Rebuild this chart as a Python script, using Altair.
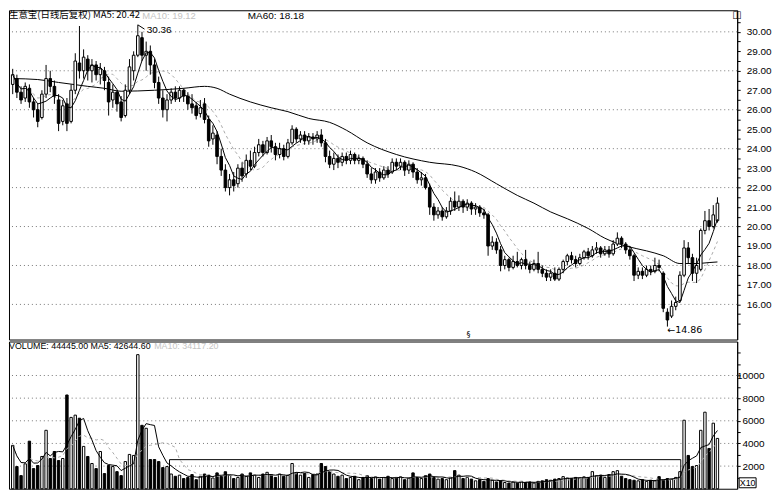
import altair as alt
import pandas as pd

# ---------------- data ----------------
opens = [27.3,27.6,26.9,26.6,27.1,26.4,26.0,25.6,26.8,27.6,
         27.2,26.5,25.4,26.3,25.4,27.0,28.4,28.0,28.6,28.0,
         28.3,27.8,28.0,27.4,26.5,26.9,26.4,25.7,27.0,28.0,
         28.8,29.7,28.8,29.0,28.3,27.4,26.6,26.0,26.5,26.9,
         26.6,27.0,26.7,26.3,26.2,25.8,26.3,25.5,24.5,24.7,
         23.6,22.9,22.0,22.4,22.2,23.0,22.7,23.4,23.1,23.8,
         24.2,23.8,24.4,24.1,23.7,24.0,23.6,24.3,25.0,24.5,
         24.7,24.4,24.6,24.5,24.7,24.3,23.6,23.2,23.5,23.3,
         23.6,23.4,23.7,23.4,23.5,23.2,22.7,22.4,22.8,22.5,
         22.9,22.8,23.3,23.1,23.3,22.9,23.2,22.8,22.4,22.5,
         22.0,21.0,20.6,20.8,20.5,20.8,21.3,21.0,21.3,21.0,
         21.2,20.9,21.0,20.7,20.6,19.0,19.2,18.8,18.0,18.3,
         17.9,18.2,18.0,18.3,18.0,17.8,18.1,17.8,17.6,17.4,
         17.6,17.3,17.8,18.2,18.5,18.3,18.1,18.4,18.7,18.5,
         18.8,18.9,18.6,18.8,18.6,19.1,19.4,19.1,18.8,18.5,
         17.5,17.7,17.5,17.8,17.7,18.0,17.6,15.6,15.4,15.9,
         16.2,17.5,18.9,18.4,17.6,17.8,19.8,20.3,20.0,20.3]
closes = [27.8,26.9,26.5,27.2,26.4,26.0,25.4,26.8,27.6,27.2,
          26.7,25.3,26.2,25.3,27.0,28.5,28.0,28.7,28.0,28.3,
          27.8,28.1,27.5,26.4,26.9,26.3,25.6,27.0,28.2,28.8,
          29.8,28.8,29.0,28.3,27.4,26.6,26.0,26.5,26.9,26.6,
          27.0,26.7,26.3,26.1,25.7,26.1,25.5,24.4,24.8,23.6,
          22.9,22.0,22.4,22.1,23.0,22.6,23.4,23.1,23.8,24.2,
          23.8,24.4,24.1,23.7,24.0,23.6,24.3,25.0,24.5,24.7,
          24.4,24.6,24.5,24.7,24.3,23.6,23.2,23.5,23.3,23.6,
          23.4,23.7,23.4,23.5,23.2,22.7,22.4,22.8,22.5,22.9,
          22.7,23.3,23.1,23.3,22.9,23.2,22.8,22.4,22.5,22.0,
          21.0,20.6,20.8,20.5,20.8,21.3,21.0,21.3,21.0,21.2,
          20.9,21.0,20.7,20.6,19.0,19.2,18.8,18.0,18.3,17.9,
          18.2,18.0,18.3,18.0,17.8,18.1,17.8,17.6,17.4,17.6,
          17.3,17.8,18.2,18.5,18.3,18.1,18.4,18.7,18.5,18.8,
          18.9,18.6,18.8,18.6,19.1,19.4,19.1,18.8,18.5,17.5,
          17.7,17.5,17.8,17.7,18.0,17.9,15.8,15.2,15.9,16.1,
          17.5,18.9,18.4,17.6,18.0,19.8,20.3,20.0,20.6,21.2]
highs = [28.1,27.8,27.2,27.4,27.3,26.6,26.3,27.0,28.3,28.0,
         27.5,26.8,26.5,26.6,27.3,28.9,30.3,29.1,28.8,28.6,
         28.5,28.4,28.2,27.7,27.3,27.0,26.7,27.3,28.6,29.0,
         30.36,30.0,29.5,29.3,28.6,27.7,27.0,26.8,27.1,27.2,
         27.2,27.1,26.9,26.8,26.4,26.5,26.6,25.7,25.2,24.9,
         24.0,23.2,22.7,22.8,23.2,23.3,23.7,23.9,24.1,24.5,
         24.4,24.6,24.7,24.3,24.3,24.2,24.5,25.2,25.1,24.9,
         24.9,24.8,24.8,24.9,25.0,24.5,23.9,23.8,23.7,23.8,
         23.8,23.9,23.8,23.7,23.6,23.4,23.0,23.0,23.0,23.1,
         23.1,23.5,23.5,23.5,23.4,23.4,23.3,23.0,22.8,22.7,
         22.2,21.2,21.0,21.0,21.0,21.5,21.8,21.6,21.4,21.4,
         21.3,21.2,21.1,20.9,20.7,19.5,19.4,19.0,18.5,18.4,
         18.5,18.7,18.4,18.8,18.2,18.3,18.7,18.0,17.8,17.8,
         17.9,17.9,18.3,18.6,18.7,18.5,18.6,18.8,18.9,19.0,
         19.2,19.0,19.0,19.0,19.3,19.7,19.5,19.2,19.0,18.6,
         17.9,17.9,18.0,18.0,18.4,18.3,17.7,15.8,16.2,16.4,
         17.7,19.3,19.2,18.6,18.4,19.9,20.8,20.9,21.1,21.5]
lows = [26.8,26.6,26.3,26.4,26.1,25.6,25.1,25.5,26.6,26.9,
        26.3,24.9,25.2,24.9,25.3,26.8,27.6,27.6,27.5,27.4,
        27.5,27.3,27.0,25.7,26.1,25.9,25.4,25.6,26.8,27.5,
        28.7,28.5,28.0,27.8,27.1,26.3,25.6,25.4,26.3,26.4,
        26.4,26.4,26.0,25.8,25.5,25.6,25.3,24.1,24.2,23.2,
        22.6,21.8,21.6,21.8,22.0,22.3,22.5,22.9,23.0,23.6,
        23.6,23.7,23.8,23.4,23.5,23.4,23.5,24.2,24.3,24.3,
        24.2,24.2,24.2,24.3,24.1,23.3,23.0,22.9,23.0,23.1,
        23.2,23.2,23.2,23.2,23.0,22.5,22.2,22.2,22.3,22.4,
        22.5,22.7,22.9,22.9,22.6,22.7,22.5,22.2,22.1,21.9,
        20.6,20.3,20.4,20.3,20.4,20.6,20.8,20.8,20.7,20.8,
        20.6,20.6,20.5,20.4,18.5,18.8,18.6,17.7,17.8,17.7,
        17.8,17.9,17.8,17.8,17.6,17.7,17.6,17.4,17.2,17.2,
        17.2,17.2,17.6,18.0,18.1,17.9,18.0,18.3,18.3,18.4,
        18.6,18.4,18.5,18.4,18.5,19.0,18.9,18.6,18.3,17.2,
        17.3,17.3,17.4,17.5,17.6,17.7,15.6,14.86,15.3,15.7,
        16.1,17.4,18.1,17.2,17.1,17.7,19.6,19.8,19.9,20.2]
volumes = [3830,1960,1160,2200,4200,1780,2050,2850,5160,2670,
           3290,2490,2670,8280,6300,6500,6230,3740,2850,2230,
           1780,3290,1340,2050,1960,1510,1160,2400,3030,2940,
           11840,5600,5340,2580,2580,2400,1870,1960,1300,1100,
           1200,900,1000,1250,800,1100,1300,1200,950,1400,
           1100,1500,1200,900,1000,1300,1100,1400,1200,1000,
           1300,1450,1250,1000,1300,1100,1200,2230,1400,1200,
           1350,1000,1250,1300,2230,1960,1500,1300,1100,1200,
           900,1000,1100,800,1000,1150,900,1050,850,1000,
           1100,900,1000,1050,800,950,1400,1000,900,1150,
           1300,1000,850,900,800,1000,1600,1200,900,1000,
           850,700,800,650,900,750,600,700,550,500,
           600,500,650,550,600,500,650,700,800,750,
           850,900,1070,950,900,1000,950,1050,1000,1510,
           1150,1200,1000,1250,1510,1600,1100,900,800,750,
           700,800,650,750,700,1070,800,900,850,1000,
           1510,6050,2940,1960,2050,5160,6760,3560,5790,4445]
ma60_idx = [0, 6, 11, 18, 22, 26, 34, 41, 46, 49, 52, 57, 62, 66, 71, 76, 80, 85,
            92, 100, 107, 111, 116, 121, 125, 129, 133, 138, 142, 147, 152, 156,
            160, 164, 167, 169]
ma60_val = [27.6, 27.55, 27.4, 27.2, 27.1, 26.95, 27.0, 27.1, 27.2, 27.1, 26.8, 26.4,
            26.1, 25.9, 25.55, 25.35, 24.95, 24.3, 23.7, 23.3, 23.1, 22.8, 22.2, 21.6,
            21.2, 20.75, 20.4, 19.9, 19.4, 19.0, 18.75, 18.5, 18.1, 18.1, 18.15, 18.18]

price_grid = [16, 18, 20, 22, 24, 26, 28, 30]
price_labels = [16, 17, 18, 19, 20, 21, 22, 23, 24, 25, 26, 27, 28, 29, 30]
vol_grid = [2000, 4000, 6000, 8000, 10000]
vol_labels = [2000, 4000, 6000, 8000, 10000]

title_main = "生意宝(日线后复权) MA5: 20.42"
title_ma10 = "MA10: 19.12"
title_ma60 = "MA60: 18.18"
title_vol = "VOLUME: 44445.00 MA5: 42644.60"
title_vol_ma10 = "MA10: 34117.20"
peak_i, peak_v, peak_text = [30], [30.36], ["30.36"]
low_i, low_v, low_text = [157], [14.86], ["←14.86"]
box_i = [37.6]
box_i2 = [160.2]
box_top = [2570]

# ---------------- chart ----------------
n = len(closes)
df = pd.DataFrame({"i": list(range(n)), "open": opens, "high": highs,
                   "low": lows, "close": closes, "vol": volumes})

W = 732
HP = 331
HV = 148
FONT = "Liberation Sans"

xsc = alt.Scale(domain=[0.3, 172.54], nice=False, zero=False)
psc = alt.Scale(domain=[14.196, 31.109], nice=False, zero=False)
vsc = alt.Scale(domain=[0, 13000], nice=False, zero=True)

p_ticks = [15 + 0.5 * k for k in range(32)]
p_axis = alt.Axis(orient="right", values=p_ticks, title=None, grid=False,
                  labelExpr="indexof(" + str(price_labels) + ", datum.value) >= 0 ? format(datum.value, '.2f') : ''",
                  tickSize=3, tickColor="black", domainColor="black", labelColor="black",
                  labelFont=FONT, labelFontSize=10, labelPadding=6, labelOverlap=False)
v_ticks = [1000 * k for k in range(1, 13)]
v_axis = alt.Axis(orient="right", values=v_ticks, title=None, grid=False,
                  labelExpr="indexof(" + str(vol_labels) + ", datum.value) >= 0 ? format(datum.value, 'd') : ''",
                  tickSize=3, tickColor="black", domainColor="black", labelColor="black",
                  labelFont=FONT, labelFontSize=10, labelAlign="right", labelPadding=24,
                  labelOverlap=False)

X = alt.X("i:Q", scale=xsc, axis=None)
up = "datum.close >= datum.open"

# price panel
grid_p = alt.Chart(pd.DataFrame({"g": price_grid})).mark_rule(
    color="#777", strokeDash=[1, 3], strokeWidth=1).encode(
    y=alt.Y("g:Q", scale=psc, axis=p_axis))
wick = alt.Chart(df).mark_rule(color="black", strokeWidth=1).encode(
    x=X, y=alt.Y("low:Q", scale=psc, axis=p_axis), y2="high:Q")
body = alt.Chart(df).mark_bar(size=2.6, stroke="black", strokeWidth=1).encode(
    x=X, y=alt.Y("open:Q", scale=psc, axis=p_axis), y2="close:Q",
    fill=alt.condition(up, alt.value("white"), alt.value("black")))
ma5 = alt.Chart(df).transform_window(
    ma5="mean(close)", frame=[-4, 0], sort=[alt.SortField("i")]).mark_line(
    color="black", strokeWidth=1).encode(x=X, y=alt.Y("ma5:Q", scale=psc, axis=p_axis))
ma10 = alt.Chart(df).transform_window(
    ma10="mean(close)", frame=[-9, 0], sort=[alt.SortField("i")]).mark_line(
    color="#aaa", strokeWidth=1, strokeDash=[3, 3]).encode(
    x=X, y=alt.Y("ma10:Q", scale=psc, axis=p_axis))
ma60 = alt.Chart(pd.DataFrame({"i": ma60_idx, "v": ma60_val})).mark_line(
    color="black", strokeWidth=1, interpolate="monotone").encode(
    x=X, y=alt.Y("v:Q", scale=psc, axis=p_axis))

peak_df = pd.DataFrame({"i": peak_i, "v": peak_v, "t": peak_text})
peak_line = alt.Chart(peak_df).transform_calculate(
    i2="datum.i + 1.6", v2="datum.v - 0.22").mark_rule(color="black", strokeWidth=1).encode(
    x=X, x2="i2:Q", y=alt.Y("v:Q", scale=psc, axis=p_axis), y2="v2:Q")
peak_txt = alt.Chart(peak_df).mark_text(
    align="left", baseline="middle", dx=9, dy=5, font=FONT, fontSize=10, color="black").encode(
    x=X, y=alt.Y("v:Q", scale=psc, axis=p_axis), text="t:N")
low_df = pd.DataFrame({"i": low_i, "v": low_v, "t": low_text})
low_txt = alt.Chart(low_df).mark_text(
    align="left", baseline="middle", dx=0, dy=3, font="DejaVu Sans", fontSize=9.5, color="black").encode(
    x=X, y=alt.Y("v:Q", scale=psc, axis=p_axis), text="t:N")

def label(txt, x, y, color="black", font="Noto Sans CJK SC", size=9.5, align="left",
          baseline="top"):
    return alt.Chart(pd.DataFrame({"t": [txt]})).mark_text(
        align=align, baseline=baseline, font=font, fontSize=size, color=color).encode(
        text="t:N", x=alt.value(x), y=alt.value(y))

t1 = label(title_main, 0, 0)
t2 = label(title_ma10, 134, 0.5, color="#c4c4c4", font=FONT, size=9.5)
t3 = label(title_ma60, 240, 0.5, font=FONT, size=10)
t4 = label("◫", 727, 0, font="DejaVu Sans", size=10)
t5 = label("§", 460, 326, font="DejaVu Sans", size=8, baseline="middle")

price = alt.layer(grid_p, ma10, ma60, wick, body, ma5, peak_line, peak_txt, low_txt,
                  t1, t2, t3, t4, t5).properties(width=W, height=HP)

# volume panel
grid_v = alt.Chart(pd.DataFrame({"g": vol_grid})).mark_rule(
    color="#777", strokeDash=[1, 3], strokeWidth=1).encode(
    y=alt.Y("g:Q", scale=vsc, axis=v_axis))
vbar = alt.Chart(df).mark_bar(size=2.4, stroke="black", strokeWidth=1).encode(
    x=X, y=alt.Y("vol:Q", scale=vsc, axis=v_axis),
    fill=alt.condition(up, alt.value("white"), alt.value("black")))
vma5 = alt.Chart(df).transform_window(
    m="mean(vol)", frame=[-4, 0], sort=[alt.SortField("i")]).mark_line(
    color="black", strokeWidth=1).encode(x=X, y=alt.Y("m:Q", scale=vsc, axis=v_axis))
vma10 = alt.Chart(df).transform_window(
    m="mean(vol)", frame=[-9, 0], sort=[alt.SortField("i")]).mark_line(
    color="#aaa", strokeWidth=1, strokeDash=[3, 3]).encode(
    x=X, y=alt.Y("m:Q", scale=vsc, axis=v_axis))
box = alt.Chart(pd.DataFrame({"i": box_i, "i2": box_i2, "top": box_top})).transform_calculate(
    b="0").mark_rect(fill=None, stroke="black", strokeWidth=1).encode(
    x=X, x2="i2:Q", y=alt.Y("top:Q", scale=vsc, axis=v_axis), y2="b:Q")
tv1 = label(title_vol, 0, 1, font=FONT, size=8.9)
tv2 = label(title_vol_ma10, 146, 1, color="#c4c4c4", font=FONT, size=8.9)
x10_box = alt.Chart(pd.DataFrame({"t": ["X10"]})).mark_rect(
    fill="white", stroke="black", strokeWidth=1).encode(
    x=alt.value(734), x2=alt.value(751), y=alt.value(137), y2=alt.value(147))
x10_txt = label("X10", 742.5, 142, font=FONT, size=9, align="center", baseline="middle")

volume = alt.layer(grid_v, vbar, vma10, vma5, box, tv1, tv2, x10_box, x10_txt).properties(
    width=W, height=HV)

chart = alt.vconcat(price, volume, spacing=0).properties(
    padding={"left": 0, "top": 0, "right": 0, "bottom": 0},
    background="white").configure_view(stroke="black", strokeWidth=1)

chart.save("out.html", embed_options={"renderer": "svg", "actions": False})
